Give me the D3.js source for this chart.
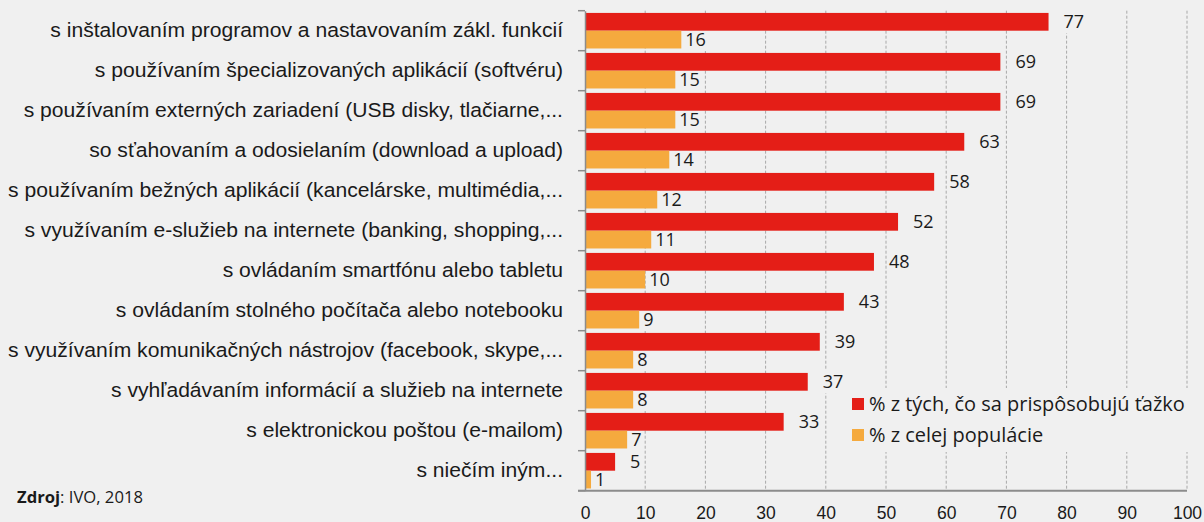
<!DOCTYPE html>
<html>
<head>
<meta charset="utf-8">
<script src="https://cdn.jsdelivr.net/npm/d3@7"></script>
<style>
  html, body { margin: 0; padding: 0; background: #f0f0f0; }
  svg { display: block; font-family: "Open Sans", "Noto Sans", sans-serif; }
</style>
</head>
<body>
<svg id="chart" width="1204" height="522"></svg>
<script>
const categories = [
    "s inštalovaním programov a nastavovaním zákl. funkcií",
    "s používaním špecializovaných aplikácií (softvéru)",
    "s používaním externých zariadení (USB disky, tlačiarne,...",
    "so sťahovaním a odosielaním (download a upload)",
    "s používaním bežných aplikácií (kancelárske, multimédia,...",
    "s využívaním e-služieb na internete (banking, shopping,...",
    "s ovládaním smartfónu alebo tabletu",
    "s ovládaním stolného počítača alebo notebooku",
    "s využívaním komunikačných nástrojov (facebook, skype,...",
    "s vyhľadávaním informácií a služieb na internete",
    "s elektronickou poštou (e-mailom)",
    "s niečím iným..."
];
const hardValues = [77, 69, 69, 63, 58, 52, 48, 43, 39, 37, 33, 5];
const popValues  = [16, 15, 15, 14, 12, 11, 10, 9, 8, 8, 7, 1];
const seriesNames = ["% z tých, čo sa prispôsobujú ťažko", "% z celej populácie"];
const xTicks = [0, 10, 20, 30, 40, 50, 60, 70, 80, 90, 100];
const source = "IVO, 2018";

const red = "#e41e17", orange = "#f5aa3e";
const axisColor = "#8c8c8c";
const textColor = "#1a1a1a";

const svg = d3.select("#chart");
const margin = {left: 585, right: 17, top: 10.7, bottom: 31.3};
const width = 1204, height = 522;

const x = d3.scaleLinear().domain([0, 100]).range([margin.left, width - margin.right]);
const y = d3.scaleBand().domain(categories).range([margin.top, height - margin.bottom]);
const sub = d3.scaleBand().domain(["hard", "pop"]).range([0, y.bandwidth()]).paddingOuter(0.125);

const rows = categories.map((c, i) => ({cat: c, hard: hardValues[i], pop: popValues[i]}));

// scale a text selection's font so its first node has the given width
function fitWidth(sel, base, target) {
    sel.style("font-size", base + "px");
    const w = sel.node().getComputedTextLength();
    const size = base * target / w;
    sel.style("font-size", size + "px");
    return size;
}

// gridlines
svg.append("g")
   .selectAll("line")
   .data(xTicks.filter(t => t > 0))
   .join("line")
      .attr("x1", d => x(d)).attr("x2", d => x(d))
      .attr("y1", margin.top).attr("y2", height - margin.bottom)
      .attr("stroke", "#a8a8a8")
      .attr("stroke-width", 1)
      .attr("stroke-dasharray", "3,2");

const bgLayer = svg.append("g");

// bars
const rowG = svg.append("g").selectAll("g")
    .data(rows)
    .join("g")
      .attr("transform", d => `translate(0,${y(d.cat)})`);

rowG.append("rect")
    .attr("x", x(0))
    .attr("y", sub("hard"))
    .attr("width", d => x(d.hard) - x(0))
    .attr("height", sub.bandwidth())
    .attr("fill", red);

rowG.append("rect")
    .attr("x", x(0))
    .attr("y", sub("pop"))
    .attr("width", d => x(d.pop) - x(0))
    .attr("height", sub.bandwidth())
    .attr("fill", orange);

// value labels; their boxes hide the gridlines underneath but sit below the bars
function valueLabel(key, offset) {
    rowG.append("text")
        .attr("x", d => x(d[key]) + offset)
        .attr("y", sub(key) + sub.bandwidth() / 2)
        .attr("dy", "0.36em")
        .style("font-size", "18px")
        .style("fill", textColor)
        .text(d => d[key])
        .each(function (d) {
            const b = this.getBBox();
            bgLayer.append("rect")
              .attr("x", b.x - 1).attr("y", y(d.cat) + b.y)
              .attr("width", b.width + 2).attr("height", b.height)
              .attr("fill", "#f0f0f0");
        });
}
valueLabel("hard", 15);
valueLabel("pop", 4);

// y axis
const yAxis = svg.append("g")
    .attr("transform", `translate(${margin.left},0)`)
    .call(d3.axisLeft(y).tickSize(0).tickPadding(22));
yAxis.select(".domain").attr("stroke", axisColor).attr("stroke-width", 1.5);
yAxis.selectAll("text").style("fill", textColor);
const catSize = fitWidth(yAxis.select(".tick text"), 17, 513);
yAxis.selectAll("text").style("font-size", catSize + "px");

// boundary ticks between categories
svg.append("g")
   .selectAll("line")
   .data(d3.range(categories.length + 1))
   .join("line")
      .attr("x1", margin.left - 7).attr("x2", margin.left)
      .attr("y1", i => margin.top + i * y.step())
      .attr("y2", i => margin.top + i * y.step())
      .attr("stroke", axisColor)
      .attr("stroke-width", 1.5);

// x axis
const xAxis = svg.append("g")
    .attr("transform", `translate(0,${height - margin.bottom})`)
    .call(d3.axisBottom(x).tickValues(xTicks).tickSize(0).tickPadding(16).tickSizeOuter(0));
xAxis.select(".domain")
    .attr("d", `M${margin.left - 7},0H${x(100)}`)
    .attr("stroke", axisColor).attr("stroke-width", 2);
xAxis.selectAll("text")
    .style("font-size", "17.5px")
    .style("fill", textColor);

// legend
const legend = svg.append("g").attr("transform", "translate(848,388)");
legend.append("rect")
    .attr("width", 356).attr("height", 64)
    .attr("fill", "#f0f0f0");
const items = legend.selectAll("g.item")
    .data(seriesNames)
    .join("g")
      .attr("class", "item")
      .attr("transform", (d, i) => `translate(4,${10 + i * 31})`);
items.append("rect")
    .attr("width", 12).attr("height", 12)
    .attr("fill", (d, i) => i === 0 ? red : orange);
const legendText = items.append("text")
    .attr("x", 17).attr("y", 6)
    .attr("dy", "0.36em")
    .style("fill", textColor)
    .text(d => d);
const legSize = fitWidth(legendText, 18, 316);
legendText.style("font-size", legSize + "px");

// source
const src = svg.append("text")
    .attr("x", 17).attr("y", 503)
    .style("fill", textColor);
src.append("tspan").style("font-weight", "bold").text("Zdroj");
src.append("tspan").text(": " + source);
fitWidth(src, 15, 126);
</script>
</body>
</html>
